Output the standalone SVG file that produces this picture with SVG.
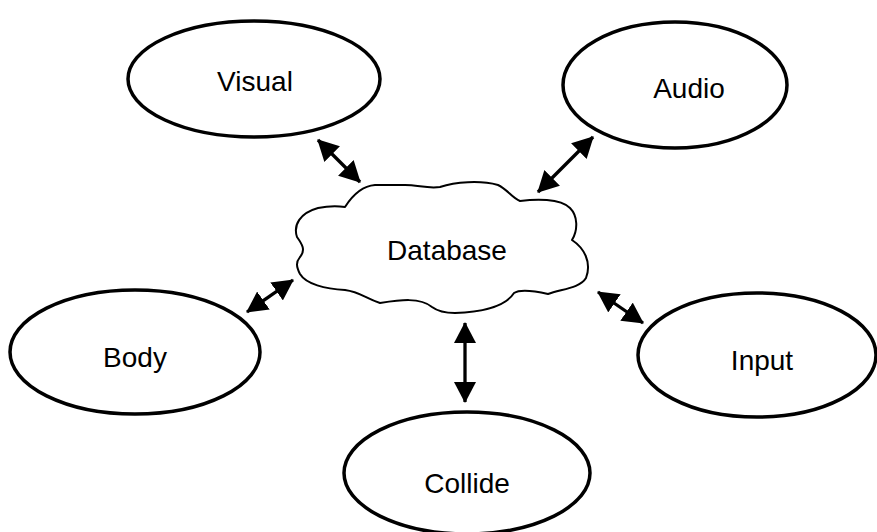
<svg xmlns="http://www.w3.org/2000/svg" width="877" height="532" viewBox="0 0 877 532">
  <style>
    .node { fill: #ffffff; stroke: #000000; stroke-width: 3.5; }
    .cloud { fill: #ffffff; stroke: #000000; stroke-width: 2; stroke-linejoin: round; }
    .label { font-family: "Liberation Sans", Arial, sans-serif; font-size: 28px; fill: #000000; text-anchor: middle; }
    .conn { stroke: #000000; stroke-width: 3.3; fill: none; marker-start: url(#head); marker-end: url(#head); }
  </style>
  <defs>
    <marker id="head" viewBox="0 0 21 22" markerUnits="userSpaceOnUse" markerWidth="21" markerHeight="22" refX="20" refY="11" orient="auto-start-reverse">
      <path d="M0,0 L21,11 L0,22 Z" fill="#000000"/>
    </marker>
  </defs>
  <rect width="877" height="532" fill="#ffffff"/>

  <g id="database">
    <path class="cloud" d="M 345,207 C 352,196 362,186 375,185 L 405,185 C 418,185 428,189 440,187 C 455,182 480,180 498,185 C 507,189 512,198 520,201 C 535,199 560,198 570,208 C 578,216 578,230 572,240 C 584,248 592,262 586,278 C 580,288 562,289 548,294 C 535,291 520,289 514,293 C 505,307 480,312 455,313 C 444,313 436,310 432,307 C 420,297 400,300 380,303 C 365,298 360,292 345,290 C 325,289 306,284 300,274 C 296,266 296,262 300,257 C 306,250 302,244 297,237 C 293,225 300,213 318,208 C 328,206 338,206 345,207 Z"/>
    <text class="label" x="447" y="260">Database</text>
  </g>

  <g id="visual">
    <ellipse class="node" cx="254" cy="79" rx="126" ry="58"/>
    <text class="label" x="255" y="91">Visual</text>
  </g>

  <g id="audio">
    <ellipse class="node" cx="675" cy="85" rx="112" ry="63"/>
    <text class="label" x="689" y="98">Audio</text>
  </g>

  <g id="body">
    <ellipse class="node" cx="135" cy="352" rx="125" ry="62"/>
    <text class="label" x="135" y="367">Body</text>
  </g>

  <g id="input">
    <ellipse class="node" cx="757" cy="355" rx="119" ry="62"/>
    <text class="label" x="762" y="370">Input</text>
  </g>

  <g id="collide">
    <ellipse class="node" cx="467" cy="473" rx="123" ry="61"/>
    <text class="label" x="467" y="493">Collide</text>
  </g>

  <g id="connectors">
    <line class="conn" x1="318" y1="140" x2="360" y2="182"/>
    <line class="conn" x1="593" y1="137" x2="538" y2="192"/>
    <line class="conn" x1="247" y1="312" x2="293" y2="280"/>
    <line class="conn" x1="598" y1="292" x2="643" y2="323"/>
    <line class="conn" x1="465" y1="323" x2="465" y2="402"/>
  </g>
</svg>
